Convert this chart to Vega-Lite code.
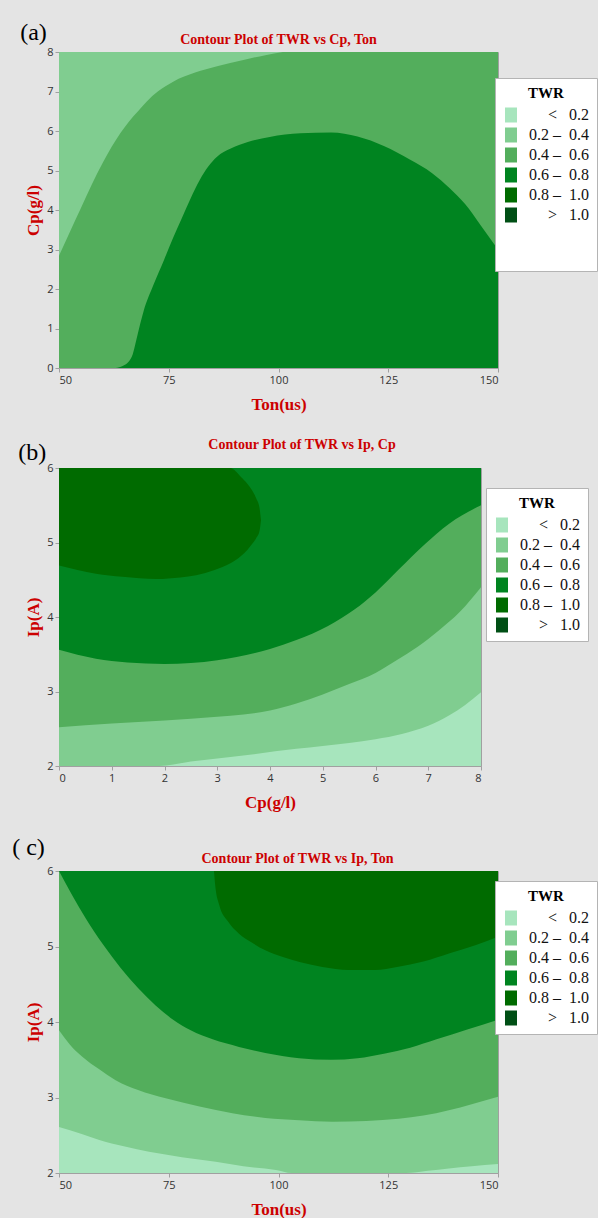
{
 "$schema": "https://vega.github.io/schema/vega-lite/v6.json",
 "background": "#e4e4e4",
 "padding": {"left": 12, "top": 20, "right": 0, "bottom": 0},
 "spacing": 24,
 "datasets": {
  "a_bg": [{"Ton":50,"lo":0,"hi":8,"TWR":"0.4 – 0.6"},{"Ton":150,"lo":0,"hi":8,"TWR":"0.4 – 0.6"}],
  "a_light": [
   {"Ton":50,"lo":2.84,"hi":8,"TWR":"0.2 – 0.4"},{"Ton":52.5,"lo":3.45,"hi":8,"TWR":"0.2 – 0.4"},{"Ton":55,"lo":4.05,"hi":8,"TWR":"0.2 – 0.4"},
   {"Ton":57.5,"lo":4.65,"hi":8,"TWR":"0.2 – 0.4"},{"Ton":60,"lo":5.2,"hi":8,"TWR":"0.2 – 0.4"},{"Ton":62,"lo":5.6,"hi":8,"TWR":"0.2 – 0.4"},
   {"Ton":64,"lo":5.95,"hi":8,"TWR":"0.2 – 0.4"},{"Ton":66,"lo":6.25,"hi":8,"TWR":"0.2 – 0.4"},{"Ton":68,"lo":6.5,"hi":8,"TWR":"0.2 – 0.4"},
   {"Ton":70,"lo":6.75,"hi":8,"TWR":"0.2 – 0.4"},{"Ton":72.5,"lo":7.0,"hi":8,"TWR":"0.2 – 0.4"},{"Ton":76,"lo":7.25,"hi":8,"TWR":"0.2 – 0.4"},
   {"Ton":81,"lo":7.48,"hi":8,"TWR":"0.2 – 0.4"},{"Ton":86,"lo":7.64,"hi":8,"TWR":"0.2 – 0.4"},{"Ton":92,"lo":7.8,"hi":8,"TWR":"0.2 – 0.4"},
   {"Ton":97,"lo":7.92,"hi":8,"TWR":"0.2 – 0.4"},{"Ton":101,"lo":8.0,"hi":8,"TWR":"0.2 – 0.4"}],
  "a_dome": [
   {"Ton":62.9,"lo":0,"hi":0,"TWR":"0.6 – 0.8"},{"Ton":64.5,"lo":0,"hi":0.05,"TWR":"0.6 – 0.8"},{"Ton":65.8,"lo":0,"hi":0.15,"TWR":"0.6 – 0.8"},
   {"Ton":66.8,"lo":0,"hi":0.35,"TWR":"0.6 – 0.8"},{"Ton":67.8,"lo":0,"hi":0.8,"TWR":"0.6 – 0.8"},{"Ton":69.3,"lo":0,"hi":1.45,"TWR":"0.6 – 0.8"},
   {"Ton":71.5,"lo":0,"hi":2.1,"TWR":"0.6 – 0.8"},{"Ton":73.9,"lo":0,"hi":2.73,"TWR":"0.6 – 0.8"},{"Ton":76,"lo":0,"hi":3.3,"TWR":"0.6 – 0.8"},
   {"Ton":78,"lo":0,"hi":3.8,"TWR":"0.6 – 0.8"},{"Ton":80,"lo":0,"hi":4.3,"TWR":"0.6 – 0.8"},{"Ton":82,"lo":0,"hi":4.75,"TWR":"0.6 – 0.8"},
   {"Ton":84,"lo":0,"hi":5.1,"TWR":"0.6 – 0.8"},{"Ton":86,"lo":0,"hi":5.35,"TWR":"0.6 – 0.8"},{"Ton":89,"lo":0,"hi":5.55,"TWR":"0.6 – 0.8"},
   {"Ton":93,"lo":0,"hi":5.72,"TWR":"0.6 – 0.8"},{"Ton":98,"lo":0,"hi":5.85,"TWR":"0.6 – 0.8"},{"Ton":105,"lo":0,"hi":5.94,"TWR":"0.6 – 0.8"},
   {"Ton":112,"lo":0,"hi":5.96,"TWR":"0.6 – 0.8"},{"Ton":118,"lo":0,"hi":5.86,"TWR":"0.6 – 0.8"},{"Ton":124,"lo":0,"hi":5.62,"TWR":"0.6 – 0.8"},
   {"Ton":130,"lo":0,"hi":5.27,"TWR":"0.6 – 0.8"},{"Ton":135,"lo":0,"hi":4.93,"TWR":"0.6 – 0.8"},{"Ton":139,"lo":0,"hi":4.55,"TWR":"0.6 – 0.8"},
   {"Ton":142.5,"lo":0,"hi":4.15,"TWR":"0.6 – 0.8"},{"Ton":146,"lo":0,"hi":3.62,"TWR":"0.6 – 0.8"},{"Ton":150,"lo":0,"hi":3.0,"TWR":"0.6 – 0.8"}],
  "b_bg": [{"Cp":0,"lo":2,"hi":6,"TWR":"< 0.2"},{"Cp":8,"lo":2,"hi":6,"TWR":"< 0.2"}],
  "b_l1": [
   {"Cp":0,"lo":2,"hi":6,"TWR":"0.2 – 0.4"},{"Cp":1.9,"lo":2,"hi":6,"TWR":"0.2 – 0.4"},{"Cp":2.5,"lo":2.06,"hi":6,"TWR":"0.2 – 0.4"},
   {"Cp":3.25,"lo":2.12,"hi":6,"TWR":"0.2 – 0.4"},{"Cp":4.5,"lo":2.23,"hi":6,"TWR":"0.2 – 0.4"},{"Cp":5.5,"lo":2.31,"hi":6,"TWR":"0.2 – 0.4"},
   {"Cp":6,"lo":2.36,"hi":6,"TWR":"0.2 – 0.4"},{"Cp":6.5,"lo":2.43,"hi":6,"TWR":"0.2 – 0.4"},{"Cp":7,"lo":2.54,"hi":6,"TWR":"0.2 – 0.4"},
   {"Cp":7.4,"lo":2.68,"hi":6,"TWR":"0.2 – 0.4"},{"Cp":7.7,"lo":2.82,"hi":6,"TWR":"0.2 – 0.4"},{"Cp":8,"lo":2.99,"hi":6,"TWR":"0.2 – 0.4"}],
  "b_l2": [
   {"Cp":0,"lo":2.52,"hi":6,"TWR":"0.4 – 0.6"},{"Cp":1,"lo":2.57,"hi":6,"TWR":"0.4 – 0.6"},{"Cp":2,"lo":2.61,"hi":6,"TWR":"0.4 – 0.6"},
   {"Cp":3,"lo":2.66,"hi":6,"TWR":"0.4 – 0.6"},{"Cp":3.5,"lo":2.69,"hi":6,"TWR":"0.4 – 0.6"},{"Cp":4,"lo":2.745,"hi":6,"TWR":"0.4 – 0.6"},
   {"Cp":4.5,"lo":2.84,"hi":6,"TWR":"0.4 – 0.6"},
   {"Cp":5,"lo":2.96,"hi":6,"TWR":"0.4 – 0.6"},{"Cp":5.5,"lo":3.1,"hi":6,"TWR":"0.4 – 0.6"},{"Cp":6,"lo":3.25,"hi":6,"TWR":"0.4 – 0.6"},
   {"Cp":6.4,"lo":3.42,"hi":6,"TWR":"0.4 – 0.6"},{"Cp":6.8,"lo":3.6,"hi":6,"TWR":"0.4 – 0.6"},{"Cp":7.2,"lo":3.82,"hi":6,"TWR":"0.4 – 0.6"},
   {"Cp":7.6,"lo":4.07,"hi":6,"TWR":"0.4 – 0.6"},{"Cp":8,"lo":4.4,"hi":6,"TWR":"0.4 – 0.6"}],
  "b_l3": [
   {"Cp":0,"lo":3.56,"hi":6,"TWR":"0.6 – 0.8"},{"Cp":0.7,"lo":3.44,"hi":6,"TWR":"0.6 – 0.8"},{"Cp":1.3,"lo":3.39,"hi":6,"TWR":"0.6 – 0.8"},
   {"Cp":2,"lo":3.37,"hi":6,"TWR":"0.6 – 0.8"},{"Cp":3,"lo":3.42,"hi":6,"TWR":"0.6 – 0.8"},{"Cp":4,"lo":3.57,"hi":6,"TWR":"0.6 – 0.8"},
   {"Cp":4.5,"lo":3.69,"hi":6,"TWR":"0.6 – 0.8"},{"Cp":5.1,"lo":3.88,"hi":6,"TWR":"0.6 – 0.8"},{"Cp":5.6,"lo":4.1,"hi":6,"TWR":"0.6 – 0.8"},
   {"Cp":6,"lo":4.33,"hi":6,"TWR":"0.6 – 0.8"},{"Cp":6.43,"lo":4.63,"hi":6,"TWR":"0.6 – 0.8"},{"Cp":6.94,"lo":4.98,"hi":6,"TWR":"0.6 – 0.8"},
   {"Cp":7.39,"lo":5.25,"hi":6,"TWR":"0.6 – 0.8"},{"Cp":8,"lo":5.5,"hi":6,"TWR":"0.6 – 0.8"}],
  "b_l4": [
   {"Cp":0,"lo":4.69,"hi":6,"TWR":"0.8 – 1.0"},{"Cp":0.35,"lo":4.63,"hi":6,"TWR":"0.8 – 1.0"},{"Cp":0.7,"lo":4.58,"hi":6,"TWR":"0.8 – 1.0"},
   {"Cp":1.2,"lo":4.54,"hi":6,"TWR":"0.8 – 1.0"},{"Cp":1.85,"lo":4.51,"hi":6,"TWR":"0.8 – 1.0"},{"Cp":2.3,"lo":4.53,"hi":6,"TWR":"0.8 – 1.0"},
   {"Cp":2.6,"lo":4.56,"hi":6,"TWR":"0.8 – 1.0"},{"Cp":2.95,"lo":4.63,"hi":6,"TWR":"0.8 – 1.0"},{"Cp":3.25,"lo":4.72,"hi":6,"TWR":"0.8 – 1.0"},
   {"Cp":3.45,"lo":4.82,"hi":5.88,"TWR":"0.8 – 1.0"},{"Cp":3.57,"lo":4.9,"hi":5.79,"TWR":"0.8 – 1.0"},{"Cp":3.66,"lo":4.98,"hi":5.7,"TWR":"0.8 – 1.0"},
   {"Cp":3.74,"lo":5.06,"hi":5.59,"TWR":"0.8 – 1.0"},{"Cp":3.8,"lo":5.15,"hi":5.47,"TWR":"0.8 – 1.0"},{"Cp":3.83,"lo":5.3,"hi":5.3,"TWR":"0.8 – 1.0"}],
  "c_bg": [{"Ton":50,"lo":2,"hi":6,"TWR":"< 0.2"},{"Ton":150,"lo":2,"hi":6,"TWR":"< 0.2"}],
  "c_l1": [
   {"Ton":50,"lo":2.61,"hi":6,"TWR":"0.2 – 0.4"},{"Ton":55,"lo":2.52,"hi":6,"TWR":"0.2 – 0.4"},{"Ton":59,"lo":2.44,"hi":6,"TWR":"0.2 – 0.4"},
   {"Ton":65,"lo":2.35,"hi":6,"TWR":"0.2 – 0.4"},{"Ton":70.5,"lo":2.28,"hi":6,"TWR":"0.2 – 0.4"},{"Ton":78,"lo":2.21,"hi":6,"TWR":"0.2 – 0.4"},
   {"Ton":85.7,"lo":2.15,"hi":6,"TWR":"0.2 – 0.4"},{"Ton":92,"lo":2.09,"hi":6,"TWR":"0.2 – 0.4"},{"Ton":99.4,"lo":2.04,"hi":6,"TWR":"0.2 – 0.4"},
   {"Ton":103,"lo":2.0,"hi":6,"TWR":"0.2 – 0.4"},{"Ton":129,"lo":2.0,"hi":6,"TWR":"0.2 – 0.4"},{"Ton":134,"lo":2.03,"hi":6,"TWR":"0.2 – 0.4"},
   {"Ton":138.8,"lo":2.06,"hi":6,"TWR":"0.2 – 0.4"},{"Ton":144,"lo":2.09,"hi":6,"TWR":"0.2 – 0.4"},{"Ton":150,"lo":2.12,"hi":6,"TWR":"0.2 – 0.4"}],
  "c_l2": [
   {"Ton":50,"lo":3.89,"hi":6,"TWR":"0.4 – 0.6"},{"Ton":52.5,"lo":3.7,"hi":6,"TWR":"0.4 – 0.6"},{"Ton":55.3,"lo":3.54,"hi":6,"TWR":"0.4 – 0.6"},
   {"Ton":59,"lo":3.38,"hi":6,"TWR":"0.4 – 0.6"},{"Ton":62.9,"lo":3.23,"hi":6,"TWR":"0.4 – 0.6"},{"Ton":68,"lo":3.1,"hi":6,"TWR":"0.4 – 0.6"},
   {"Ton":74.3,"lo":2.99,"hi":6,"TWR":"0.4 – 0.6"},{"Ton":82,"lo":2.88,"hi":6,"TWR":"0.4 – 0.6"},{"Ton":89.5,"lo":2.79,"hi":6,"TWR":"0.4 – 0.6"},
   {"Ton":97,"lo":2.73,"hi":6,"TWR":"0.4 – 0.6"},{"Ton":104.7,"lo":2.7,"hi":6,"TWR":"0.4 – 0.6"},{"Ton":112.3,"lo":2.68,"hi":6,"TWR":"0.4 – 0.6"},
   {"Ton":120,"lo":2.69,"hi":6,"TWR":"0.4 – 0.6"},{"Ton":127.4,"lo":2.72,"hi":6,"TWR":"0.4 – 0.6"},{"Ton":133,"lo":2.76,"hi":6,"TWR":"0.4 – 0.6"},
   {"Ton":138.8,"lo":2.83,"hi":6,"TWR":"0.4 – 0.6"},{"Ton":144,"lo":2.91,"hi":6,"TWR":"0.4 – 0.6"},{"Ton":150,"lo":3.01,"hi":6,"TWR":"0.4 – 0.6"}],
  "c_l3": [
   {"Ton":50,"lo":6.0,"hi":6,"TWR":"0.6 – 0.8"},{"Ton":53,"lo":5.68,"hi":6,"TWR":"0.6 – 0.8"},{"Ton":56,"lo":5.38,"hi":6,"TWR":"0.6 – 0.8"},
   {"Ton":60,"lo":5.03,"hi":6,"TWR":"0.6 – 0.8"},{"Ton":64,"lo":4.72,"hi":6,"TWR":"0.6 – 0.8"},{"Ton":68,"lo":4.45,"hi":6,"TWR":"0.6 – 0.8"},
   {"Ton":72,"lo":4.22,"hi":6,"TWR":"0.6 – 0.8"},{"Ton":76,"lo":4.03,"hi":6,"TWR":"0.6 – 0.8"},{"Ton":80,"lo":3.89,"hi":6,"TWR":"0.6 – 0.8"},
   {"Ton":85,"lo":3.77,"hi":6,"TWR":"0.6 – 0.8"},{"Ton":91,"lo":3.67,"hi":6,"TWR":"0.6 – 0.8"},{"Ton":97,"lo":3.59,"hi":6,"TWR":"0.6 – 0.8"},
   {"Ton":104.7,"lo":3.52,"hi":6,"TWR":"0.6 – 0.8"},{"Ton":112,"lo":3.5,"hi":6,"TWR":"0.6 – 0.8"},{"Ton":118,"lo":3.52,"hi":6,"TWR":"0.6 – 0.8"},
   {"Ton":124,"lo":3.58,"hi":6,"TWR":"0.6 – 0.8"},{"Ton":130,"lo":3.66,"hi":6,"TWR":"0.6 – 0.8"},{"Ton":136,"lo":3.77,"hi":6,"TWR":"0.6 – 0.8"},
   {"Ton":143,"lo":3.9,"hi":6,"TWR":"0.6 – 0.8"},{"Ton":150,"lo":4.03,"hi":6,"TWR":"0.6 – 0.8"}],
  "c_l4": [
   {"Ton":85.3,"lo":6.0,"hi":6,"TWR":"0.8 – 1.0"},{"Ton":85.6,"lo":5.8,"hi":6,"TWR":"0.8 – 1.0"},{"Ton":86.5,"lo":5.55,"hi":6,"TWR":"0.8 – 1.0"},
   {"Ton":88.5,"lo":5.33,"hi":6,"TWR":"0.8 – 1.0"},{"Ton":91,"lo":5.17,"hi":6,"TWR":"0.8 – 1.0"},{"Ton":94,"lo":5.05,"hi":6,"TWR":"0.8 – 1.0"},
   {"Ton":97,"lo":4.95,"hi":6,"TWR":"0.8 – 1.0"},{"Ton":101,"lo":4.86,"hi":6,"TWR":"0.8 – 1.0"},{"Ton":105,"lo":4.79,"hi":6,"TWR":"0.8 – 1.0"},
   {"Ton":110,"lo":4.73,"hi":6,"TWR":"0.8 – 1.0"},{"Ton":116,"lo":4.69,"hi":6,"TWR":"0.8 – 1.0"},{"Ton":122,"lo":4.69,"hi":6,"TWR":"0.8 – 1.0"},
   {"Ton":127,"lo":4.73,"hi":6,"TWR":"0.8 – 1.0"},{"Ton":133,"lo":4.8,"hi":6,"TWR":"0.8 – 1.0"},{"Ton":139,"lo":4.91,"hi":6,"TWR":"0.8 – 1.0"},
   {"Ton":145,"lo":5.02,"hi":6,"TWR":"0.8 – 1.0"},{"Ton":150,"lo":5.13,"hi":6,"TWR":"0.8 – 1.0"}]
 },
 "vconcat": [
  {
   "title": {"text": "(a)", "anchor": "start", "font": "Liberation Serif", "fontSize": 24, "fontWeight": "normal", "color": "#000000", "offset": -12, "dx": -4},
   "resolve": {"scale": {"color": "independent"}},
   "vconcat": [{
    "title": {"text": "Contour Plot of TWR vs Cp, Ton", "offset": -1},
    "width": 439, "height": 316,
    "encoding": {
     "x": {"field": "Ton", "type": "quantitative", "scale": {"domain": [50, 150], "nice": false, "zero": false}, "axis": {"values": [50, 75, 100, 125, 150], "title": "Ton(us)"}},
     "y": {"field": "lo", "type": "quantitative", "scale": {"domain": [0, 8], "nice": false}, "axis": {"values": [0, 1, 2, 3, 4, 5, 6, 7, 8], "title": "Cp(g/l)"}},
     "y2": {"field": "hi"},
     "color": {"field": "TWR", "type": "nominal",
      "scale": {"domain": ["< 0.2", "0.2 – 0.4", "0.4 – 0.6", "0.6 – 0.8", "0.8 – 1.0", "> 1.0", "blank1", "blank2"], "range": ["#a7e5bd", "#80cd90", "#53ae5c", "#008420", "#006b00", "#004f15", "#ffffff", "#ffffff"]},
      "legend": {"legendX": 436, "legendY": 26,
       "labelExpr": "indexof(datum.label, 'blank') >= 0 ? '' : datum.label == '< 0.2' ? '<\u00a0\u00a0\u00a00.2' : datum.label == '> 1.0' ? '>\u00a0\u00a0\u00a01.0' : replace(datum.label, ' – ', '\u00a0–\u00a0\u00a0')"}}
    },
    "layer": [
     {"data": {"name": "a_bg"}, "mark": {"type": "area", "interpolate": "monotone", "clip": true, "opacity": 1}},
     {"data": {"name": "a_light"}, "mark": {"type": "area", "interpolate": "monotone", "clip": true, "opacity": 1}},
     {"data": {"name": "a_dome"}, "mark": {"type": "area", "interpolate": "monotone", "clip": true, "opacity": 1}}
    ]
   }]
  },
  {
   "title": {"text": "(b)", "anchor": "start", "font": "Liberation Serif", "fontSize": 24, "fontWeight": "normal", "color": "#000000", "offset": -27, "dx": -6},
   "resolve": {"scale": {"color": "independent"}},
   "vconcat": [{
    "title": {"text": "Contour Plot of TWR vs Ip, Cp", "offset": 10, "dx": 32},
    "width": 422, "height": 298,
    "encoding": {
     "x": {"field": "Cp", "type": "quantitative", "scale": {"domain": [0, 8], "nice": false}, "axis": {"values": [0, 1, 2, 3, 4, 5, 6, 7, 8], "title": "Cp(g/l)"}},
     "y": {"field": "lo", "type": "quantitative", "scale": {"domain": [2, 6], "nice": false, "zero": false}, "axis": {"values": [2, 3, 4, 5, 6], "title": "Ip(A)"}},
     "y2": {"field": "hi"},
     "color": {"field": "TWR", "type": "nominal",
      "scale": {"domain": ["< 0.2", "0.2 – 0.4", "0.4 – 0.6", "0.6 – 0.8", "0.8 – 1.0", "> 1.0"], "range": ["#a7e5bd", "#80cd90", "#53ae5c", "#008420", "#006b00", "#004f15"]},
      "legend": {"legendX": 427, "legendY": 20,
       "labelExpr": "datum.label == '< 0.2' ? '<\u00a0\u00a0\u00a00.2' : datum.label == '> 1.0' ? '>\u00a0\u00a0\u00a01.0' : replace(datum.label, ' – ', '\u00a0–\u00a0\u00a0')"}}
    },
    "layer": [
     {"data": {"name": "b_bg"}, "mark": {"type": "area", "interpolate": "monotone", "clip": true, "opacity": 1}},
     {"data": {"name": "b_l1"}, "mark": {"type": "area", "interpolate": "monotone", "clip": true, "opacity": 1}},
     {"data": {"name": "b_l2"}, "mark": {"type": "area", "interpolate": "monotone", "clip": true, "opacity": 1}},
     {"data": {"name": "b_l3"}, "mark": {"type": "area", "interpolate": "monotone", "clip": true, "opacity": 1}},
     {"data": {"name": "b_l4"}, "mark": {"type": "area", "interpolate": "monotone", "clip": true, "opacity": 1}}
    ]
   }]
  },
  {
   "title": {"text": "( c)", "anchor": "start", "font": "Liberation Serif", "fontSize": 24, "fontWeight": "normal", "color": "#000000", "offset": -8, "dx": -12},
   "resolve": {"scale": {"color": "independent"}},
   "vconcat": [{
    "title": {"text": "Contour Plot of TWR vs Ip, Ton", "offset": -1, "dx": 19},
    "width": 439, "height": 302,
    "encoding": {
     "x": {"field": "Ton", "type": "quantitative", "scale": {"domain": [50, 150], "nice": false, "zero": false}, "axis": {"values": [50, 75, 100, 125, 150], "title": "Ton(us)"}},
     "y": {"field": "lo", "type": "quantitative", "scale": {"domain": [2, 6], "nice": false, "zero": false}, "axis": {"values": [2, 3, 4, 5, 6], "title": "Ip(A)"}},
     "y2": {"field": "hi"},
     "color": {"field": "TWR", "type": "nominal",
      "scale": {"domain": ["< 0.2", "0.2 – 0.4", "0.4 – 0.6", "0.6 – 0.8", "0.8 – 1.0", "> 1.0"], "range": ["#a7e5bd", "#80cd90", "#53ae5c", "#008420", "#006b00", "#004f15"]},
      "legend": {"legendX": 436, "legendY": 10,
       "labelExpr": "datum.label == '< 0.2' ? '<\u00a0\u00a0\u00a00.2' : datum.label == '> 1.0' ? '>\u00a0\u00a0\u00a01.0' : replace(datum.label, ' – ', '\u00a0–\u00a0\u00a0')"}}
    },
    "layer": [
     {"data": {"name": "c_bg"}, "mark": {"type": "area", "interpolate": "monotone", "clip": true, "opacity": 1}},
     {"data": {"name": "c_l1"}, "mark": {"type": "area", "interpolate": "monotone", "clip": true, "opacity": 1}},
     {"data": {"name": "c_l2"}, "mark": {"type": "area", "interpolate": "monotone", "clip": true, "opacity": 1}},
     {"data": {"name": "c_l3"}, "mark": {"type": "area", "interpolate": "monotone", "clip": true, "opacity": 1}},
     {"data": {"name": "c_l4"}, "mark": {"type": "area", "interpolate": "monotone", "clip": true, "opacity": 1}}
    ]
   }]
  }
 ],
 "resolve": {"scale": {"color": "independent"}},
 "config": {
  "view": {"stroke": "#a0a0a0"},
  "title": {"font": "Liberation Serif", "fontSize": 14, "fontWeight": "bold", "color": "#cc0000"},
  "axis": {"grid": false, "domainColor": "#a0a0a0", "tickColor": "#a0a0a0", "tickSize": 4, "labelFont": "Open Sans", "labelFontSize": 11, "labelColor": "#333333", "labelPadding": 2, "titleFont": "Liberation Serif", "titleFontSize": 17, "titleFontWeight": "bold", "titleColor": "#cc0000"},
  "axisX": {"titlePadding": 11},
  "axisY": {"titlePadding": 4},
  "legend": {"orient": "none", "fillColor": "#ffffff", "strokeColor": "#b4b4b4", "padding": 8,
   "titleFont": "Liberation Serif", "titleFontSize": 15, "titleFontWeight": "bold", "titleColor": "#000000", "titleAnchor": "middle", "titlePadding": 6,
   "labelFont": "Liberation Serif", "labelFontSize": 16, "labelColor": "#111111", "labelAlign": "right", "labelOffset": 70,
   "symbolType": "M-0.8,-1H0.8V1H-0.8Z", "symbolSize": 225, "symbolStrokeWidth": 0, "symbolOpacity": 1, "rowPadding": 4}
 }
}
